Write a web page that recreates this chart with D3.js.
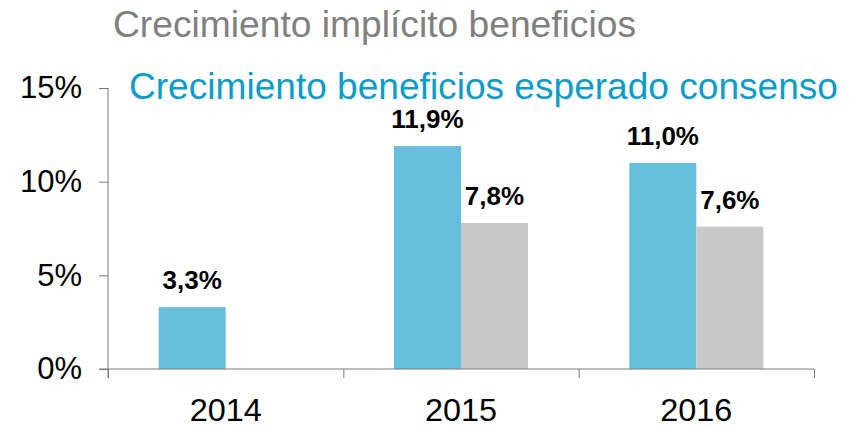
<!DOCTYPE html>
<html>
<head>
<meta charset="utf-8">
<script src="https://cdn.jsdelivr.net/npm/d3@7"></script>
<style>
  html, body { margin: 0; padding: 0; background: #fff; }
  svg { display: block; font-family: "Liberation Sans", Arial, sans-serif; }
</style>
</head>
<body>
<svg id="chart" width="851" height="428"></svg>
<script>
// Earnings growth: consensus expectation vs. growth implied by prices
const years = ["2014", "2015", "2016"];
const consensoValues = [3.3, 11.9, 11.0];
const implicitoValues = [null, 7.8, 7.6];
const yTicks = [0, 5, 10, 15];
const seriesNames = ["Crecimiento beneficios esperado consenso", "Crecimiento implícito beneficios"];
const seriesColors = ["#65bfdd", "#c8c8c8"];

const svg = d3.select("#chart");
const plotLeft = 108, plotRight = 814, plotTop = 88, plotBottom = 369;

const x = d3.scaleBand().domain(years).range([plotLeft, plotRight]).paddingInner(0).paddingOuter(0);
const xSeries = d3.scaleBand().domain(["consenso", "implicito"])
  .range([0, x.bandwidth()]).paddingInner(0).paddingOuter(0.756);
const y = d3.scaleLinear().domain([0, 15]).range([plotBottom, plotTop]);

const fmt = v => d3.format(".1f")(v).replace(".", ",") + "%";
const axisColor = "#7a7a7a";

// Bars
const rows = years.map((yr, i) => ({ year: yr, consenso: consensoValues[i], implicito: implicitoValues[i] }));
const keys = ["consenso", "implicito"];
const groups = svg.append("g").selectAll("g").data(rows).join("g")
  .attr("transform", d => `translate(${x(d.year)},0)`);

const cells = groups.selectAll("g").data(d => keys.map((k, j) => ({ key: k, j, value: d[k] })).filter(c => c.value != null))
  .join("g");

cells.append("rect")
  .attr("x", c => xSeries(c.key))
  .attr("width", xSeries.bandwidth())
  .attr("y", c => y(c.value))
  .attr("height", c => y(0) - y(c.value))
  .attr("fill", c => seriesColors[c.j]);

cells.append("text")
  .attr("x", c => xSeries(c.key) + xSeries.bandwidth() / 2)
  .attr("y", c => y(c.value) - 18)
  .attr("text-anchor", "middle")
  .attr("font-size", 26)
  .attr("font-weight", "bold")
  .attr("fill", "#000")
  .text(c => fmt(c.value));

// Y axis
const yAxis = svg.append("g").attr("transform", `translate(${plotLeft},0)`)
  .call(d3.axisLeft(y).tickValues(yTicks).tickSize(9).tickPadding(17).tickFormat(d => d + "%"));
yAxis.select(".domain").attr("stroke", axisColor).attr("d", `M0,${plotTop}V${plotBottom + 9}`);
yAxis.selectAll(".tick line").attr("stroke", axisColor);
yAxis.selectAll(".tick text").attr("font-size", 31).attr("fill", "#000")
  .attr("font-family", "Liberation Sans, Arial, sans-serif");

// X axis: ticks at category boundaries, labels at centres
const xEdges = d3.scaleLinear().domain([0, years.length]).range([plotLeft, plotRight]);
const xAxis = svg.append("g").attr("transform", `translate(0,${plotBottom})`)
  .call(d3.axisBottom(xEdges).tickValues(d3.range(years.length + 1)).tickSize(9).tickFormat(""));
xAxis.select(".domain").attr("stroke", axisColor).attr("d", `M${plotLeft - 9},0H${plotRight}`);
xAxis.selectAll(".tick line").attr("stroke", axisColor);

svg.append("g").selectAll("text").data(years).join("text")
  .attr("x", d => x(d) + x.bandwidth() / 2)
  .attr("y", 421)
  .attr("text-anchor", "middle")
  .attr("font-size", 31)
  .attr("fill", "#000")
  .attr("textLength", 72).attr("lengthAdjust", "spacingAndGlyphs")
  .text(d => d);

// Series titles
svg.append("text")
  .attr("x", 113).attr("y", 37)
  .attr("font-size", 36.5)
  .attr("fill", "#808080")
  .attr("textLength", 523).attr("lengthAdjust", "spacingAndGlyphs")
  .text(seriesNames[1]);

svg.append("text")
  .attr("x", 129).attr("y", 99)
  .attr("font-size", 37)
  .attr("fill", "#0a9ccb")
  .attr("textLength", 709).attr("lengthAdjust", "spacingAndGlyphs")
  .text(seriesNames[0]);
</script>
</body>
</html>
